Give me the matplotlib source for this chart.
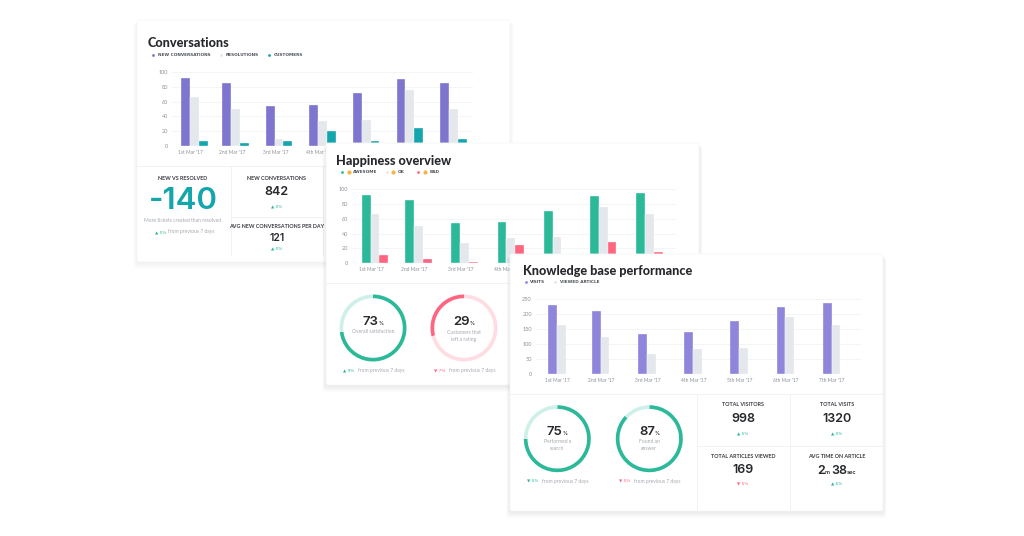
import matplotlib
matplotlib.use("Agg")
import matplotlib.pyplot as plt
import numpy as np
from matplotlib.patches import FancyBboxPatch

W, H = 1024, 536

days = ["1st Mar '17", "2nd Mar '17", "3rd Mar '17", "4th Mar '17", "5th Mar '17", "6th Mar '17", "7th Mar '17"]

new_conversations = [92, 85, 54, 56, 71, 90, 85]
resolutions = [66, 50, 10, 34, 35, 76, 50]
customers = [7, 4, 7, 20, 7, 25, 10]

awesome = [92, 85, 54, 56, 71, 90, 95]
ok = [66, 50, 27, 34, 35, 76, 66]
bad = [11, 6, 2, 24, 7, 29, 15]

visits = [230, 212, 135, 140, 178, 224, 237]
viewed_article = [165, 123, 67, 83, 88, 190, 165]

satisfaction = 73
left_rating = 29
performed_search = 75
found_answer = 87

PURPLE = "#7E75CF"
LILAC = "#8F86DB"
TEAL = "#15A5AD"
GRAY = "#E4E7EB"
GREEN = "#2BB99A"
RED = "#FF6480"
MINT = "#CFF0E8"
PINK = "#FFDCE2"
DARK = "#26282C"
MUTED = "#A4A9B0"
LINE = "#F1F2F4"
SMILE = "#F5B544"

# first gap between the days is a bit shorter in all three charts
DAY_POS = np.r_[0, np.arange(6) + 0.94]
BAR_PX = 8.8
NUM_FONT = ["Inter", "DejaVu Sans"]

plt.rcParams["font.family"] = ["Lato", "DejaVu Sans"]

fig = plt.figure(figsize=(W / 100, H / 100), dpi=100, facecolor="white")


def px_axes(left, top, right, bottom, z):
    return fig.add_axes([left / W, 1 - bottom / H, (right - left) / W, (bottom - top) / H], zorder=z)


def add_card(left, top, right, bottom, z, strength=0.011):
    bg = px_axes(0, 0, W, H, z)
    bg.set_xlim(0, W)
    bg.set_ylim(H, 0)
    bg.axis("off")
    for grow in range(7, 0, -1):
        bg.add_patch(FancyBboxPatch((left - grow * 0.5, top + 3), right - left + grow, bottom - top + grow - 3,
                                    boxstyle="round,pad=0,rounding_size=3", fc="black", ec="none", alpha=strength))
    bg.add_patch(FancyBboxPatch((left, top), right - left, bottom - top, boxstyle="round,pad=0,rounding_size=2",
                                fc="white", ec="#F5F6F7", lw=0.6))
    return bg


def bar_chart(rect, z, first_px, unit_px, series, colors, ymax, ystep, shown_days):
    left, top, right, bottom = rect
    ax = px_axes(left, top, right, bottom, z)
    ax.patch.set_alpha(0)
    ax.set_xlim((left - first_px) / unit_px, (right - first_px) / unit_px)
    ax.set_ylim(0, ymax)
    bar_w = BAR_PX / unit_px
    for i, (values, color) in enumerate(zip(series, colors)):
        ax.bar(DAY_POS + i * bar_w, values, width=bar_w, align="edge", color=color, edgecolor="white", linewidth=0.25)
    ax.set_yticks(np.arange(0, ymax + 1, ystep))
    # labels under the next card are left out
    ax.set_xticks(DAY_POS[:shown_days] + 9.5 / unit_px)
    ax.set_xticklabels(days[:shown_days])
    ax.tick_params(length=0, labelcolor="#8C929A", pad=3)
    ax.tick_params(axis="x", labelsize=3.5)
    ax.tick_params(axis="y", labelsize=4)
    ax.grid(axis="y", color=LINE, lw=0.6)
    ax.set_axisbelow(True)
    for side in ax.spines:
        ax.spines[side].set_visible(False)
    return ax


def ring(cx, cy, value, color, light, z, clockwise=True):
    r = 33.5
    ax = px_axes(cx - r, cy - r, cx + r, cy + r, z)
    ax.pie([value, 100 - value], colors=[color, light], startangle=90, counterclock=not clockwise,
           radius=1, wedgeprops={"width": 0.11, "linewidth": 0})
    ax.set_xlim(-1, 1)
    ax.set_ylim(-1, 1)


def header(bg, s, x, y):
    bg.text(x, y, s, fontsize=3.85, fontweight="bold", color="#3A3D42", ha="center", va="center")


def number(bg, s, x, y, size=9):
    bg.text(x, y, s, fontsize=size, fontweight="semibold", color=DARK, ha="center", va="center", family=NUM_FONT)


def change(bg, x, y, s, up=True, color=GREEN):
    arrow = "\u25b2" if up else "\u25bc"
    bg.text(x, y, arrow + " " + s, fontsize=3.1, color=color, ha="center", va="center", family=["DejaVu Sans"])


def run_text(bg, cx, y, parts, color=DARK):
    # number + small unit pieces, centred together on cx
    rend = fig.canvas.get_renderer()
    items = [bg.text(0, y, s, fontsize=size, fontweight="semibold", color=color, ha="left", va="baseline", family=NUM_FONT)
             for s, size in parts]
    widths = [t.get_window_extent(rend).width for t in items]
    x = cx - sum(widths) / 2
    for t, w in zip(items, widths):
        t.set_x(x)
        x += w


def small(bg, s, x, y, ha="center"):
    bg.text(x, y, s, fontsize=3.6, color=MUTED, ha=ha, va="center")


def legend(bg, y, entries, size=3.1):
    for dot_x, text_x, label, color, smile_x in entries:
        bg.scatter([dot_x], [y], s=4, color=color, linewidths=0)
        if smile_x:
            bg.scatter([smile_x], [y], s=9, color=SMILE, linewidths=0)
        bg.text(text_x, y, label, fontsize=size, fontweight="bold", color="#50545A", va="center", ha="left", family=["DejaVu Sans"])


def footer(bg, mark_x, text_x, y, s, up, color):
    change(bg, mark_x, y, s, up, color)
    small(bg, "from previous 7 days", text_x, y, ha="left")


def title(bg, s, x, y):
    bg.text(x, y, s, fontsize=9.1, fontweight="black", color=DARK, va="center")


# Conversations card
bg = add_card(137, 20, 510, 262, 1, 0.009)
title(bg, "Conversations", 148, 43)
legend(bg, 54.7, [(153.3, 158, "NEW CONVERSATIONS", PURPLE, None), (220.7, 225.7, "RESOLUTIONS", GRAY, None),
                  (268.7, 273.3, "CUSTOMERS", TEAL, None)])
bar_chart((172, 71.7, 473, 146.3), 2, 181.3, 43.6, [new_conversations, resolutions, customers], [PURPLE, GRAY, TEAL], 100, 20, 4)
bg.plot([137, 510], [166, 166], color=LINE, lw=0.7)
bg.plot([230.7, 230.7], [166, 255], color=LINE, lw=0.7)
bg.plot([323, 323], [166, 255], color=LINE, lw=0.7)
bg.plot([230.7, 323], [217, 217], color=LINE, lw=0.7)
header(bg, "NEW VS RESOLVED", 183, 178)
bg.text(183, 201, "-140", fontsize=22.5, color=TEAL, ha="center", va="center", fontweight="semibold", family=NUM_FONT)
small(bg, "More tickets created than resolved", 183, 220)
change(bg, 161, 232, "5%")
small(bg, "from previous 7 days", 168, 232, ha="left")
header(bg, "NEW CONVERSATIONS", 276.7, 178)
number(bg, "842", 276.7, 192)
change(bg, 276.7, 206, "0%")
header(bg, "AVG NEW CONVERSATIONS PER DAY", 276.7, 227)
number(bg, "121", 276.7, 237.7, size=7.5)
change(bg, 276.7, 248, "0%")

# Happiness card
bg = add_card(326, 143, 699, 385, 10, 0.011)
title(bg, "Happiness overview", 335.7, 161)
legend(bg, 172, [(342, 353, "AWESOME", GREEN, 348.7), (386.7, 398, "OK", GRAY, 393.3), (418.3, 429.3, "BAD", RED, 425)])
bar_chart((352, 189, 676, 263.3), 11, 361.7, 46.2, [awesome, ok, bad], [GREEN, GRAY, RED], 100, 20, 4)
bg.plot([326, 699], [283, 283], color=LINE, lw=0.7)
ring(373, 328, satisfaction, GREEN, MINT, 11)
ring(464, 328, left_rating, RED, PINK, 11, clockwise=False)
run_text(bg, 373, 325, [(f"{satisfaction}", 9.5), ("%", 3.5)])
small(bg, "Overall satisfaction", 373, 331.7)
run_text(bg, 464, 325, [(f"{left_rating}", 9.5), ("%", 3.5)])
small(bg, "Customers that", 464, 332)
small(bg, "left a rating", 464, 339)
footer(bg, 349, 358.3, 370.7, "9%", True, GREEN)
footer(bg, 440, 449.3, 370.7, "7%", False, RED)

# Knowledge base card
bg = add_card(510, 254, 883, 511, 20, 0.013)
title(bg, "Knowledge base performance", 523.3, 271)
legend(bg, 282.3, [(525.7, 530, "VISITS", LILAC, None), (555, 560, "VIEWED ARTICLE", GRAY, None)])
bar_chart((536, 299.3, 861, 373.7), 21, 548.3, 46.2, [visits, viewed_article], [LILAC, GRAY], 250, 50, 7)
bg.plot([510, 883], [394, 394], color=LINE, lw=0.7)
bg.plot([697, 697], [394, 511], color=LINE, lw=0.7)
bg.plot([790, 790], [394, 511], color=LINE, lw=0.7)
bg.plot([697, 883], [445.7, 445.7], color=LINE, lw=0.7)
ring(557.3, 438.7, performed_search, GREEN, MINT, 21)
ring(649.3, 438.7, found_answer, GREEN, MINT, 21)
run_text(bg, 557.3, 435, [(f"{performed_search}", 9.5), ("%", 3.5)])
small(bg, "Performed a", 557.3, 441.3)
small(bg, "search", 557.3, 448.3)
run_text(bg, 649.3, 435, [(f"{found_answer}", 9.5), ("%", 3.5)])
small(bg, "Found an", 649.3, 441.3)
small(bg, "answer", 649.3, 448.3)
footer(bg, 533, 542.3, 481, "5%", False, GREEN)
footer(bg, 625, 634, 481, "5%", False, RED)
header(bg, "TOTAL VISITORS", 743, 405)
number(bg, "998", 743, 419)
change(bg, 743, 433.3, "5%")
header(bg, "TOTAL VISITS", 836.7, 405)
number(bg, "1320", 836.7, 419)
change(bg, 836.7, 433.3, "0%")
header(bg, "TOTAL ARTICLES VIEWED", 743, 456)
number(bg, "169", 743, 469.7)
change(bg, 743, 483.7, "5%", False, RED)
header(bg, "AVG TIME ON ARTICLE", 836.7, 456)
run_text(bg, 836.7, 473.5, [("2", 9), ("m ", 4), ("38", 9), ("sec", 4)])
change(bg, 836.7, 483.7, "6%")

fig.savefig("out.png", dpi=100, facecolor="white")
